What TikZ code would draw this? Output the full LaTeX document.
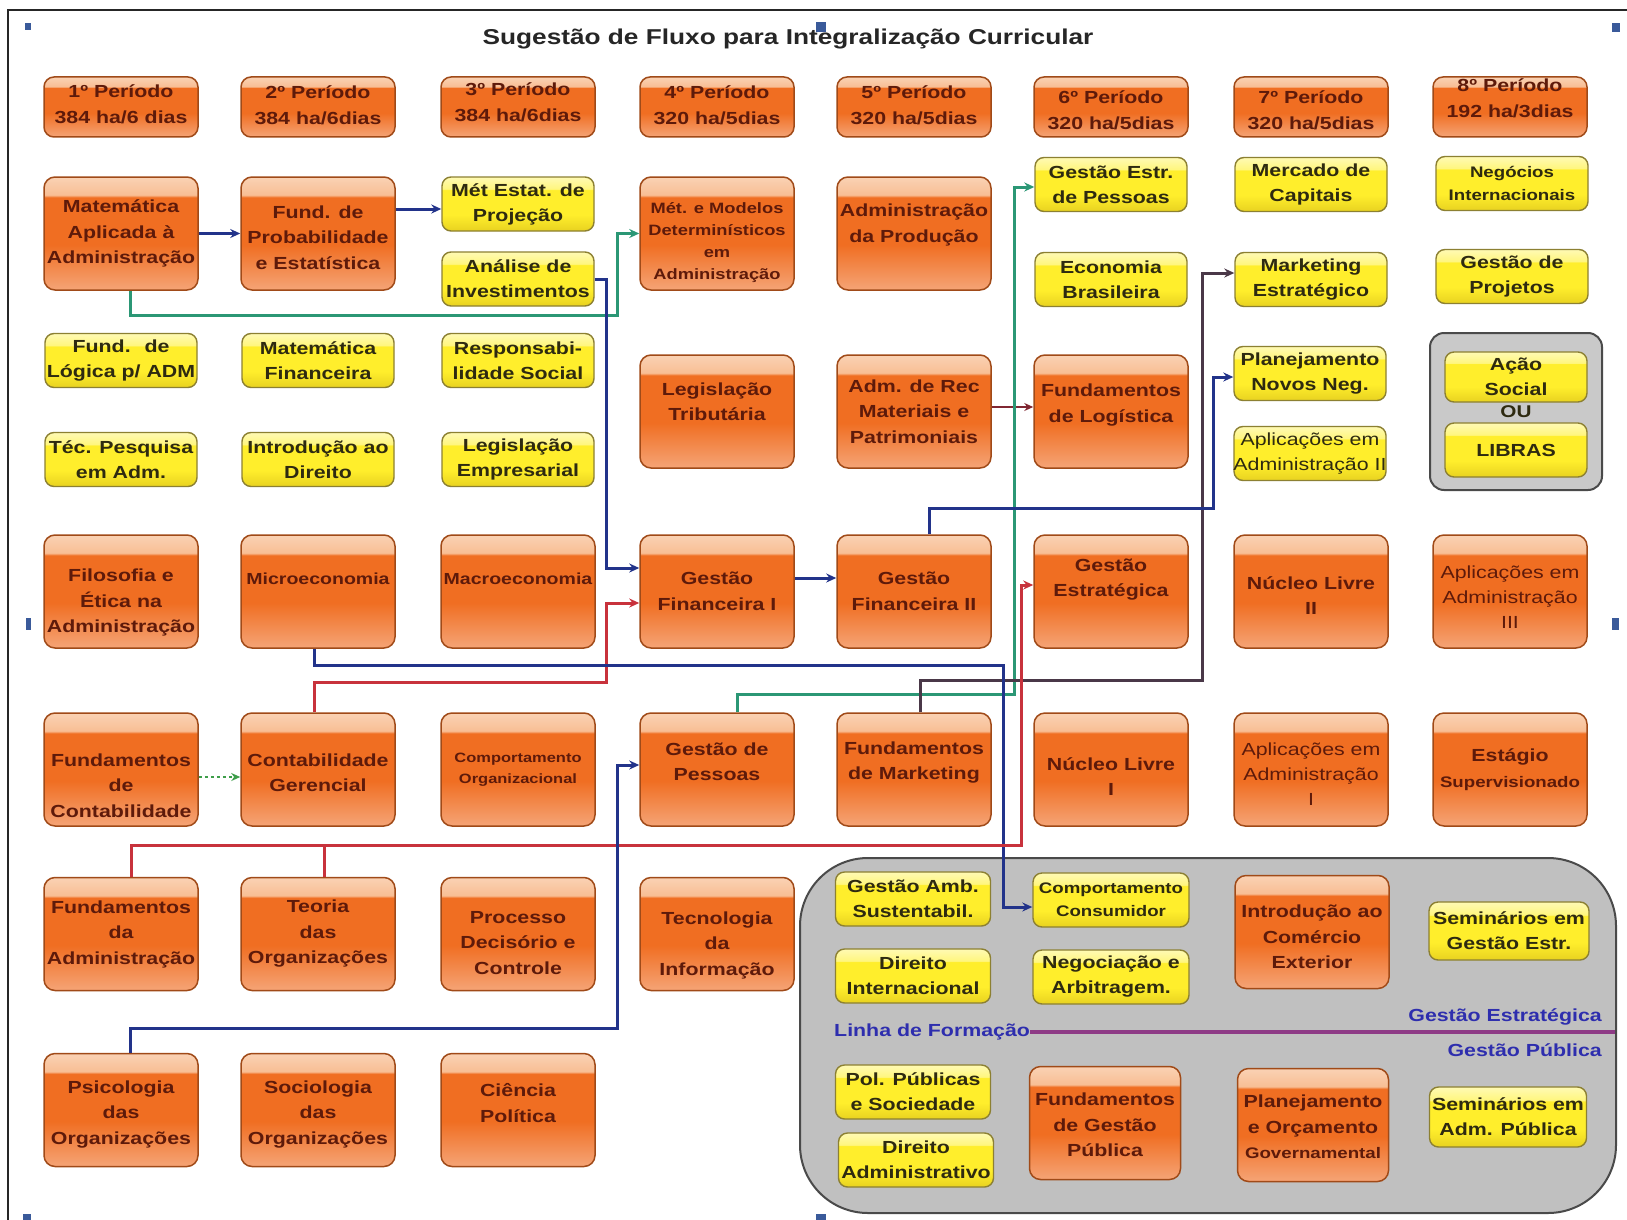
\documentclass[tikz,border=0pt]{standalone}
\usepackage{fontspec}
\newfontfamily\lsans{Liberation Sans}[FakeStretch=1.22]
\usetikzlibrary{arrows.meta}
\definecolor{ob}{HTML}{F5A476}
\definecolor{om}{HTML}{F06E22}
\definecolor{ot}{HTML}{F8BE94}
\definecolor{ot2}{HTML}{FAD2B4}
\definecolor{obord}{HTML}{A04A18}
\definecolor{otext}{HTML}{5E1A0A}
\definecolor{yb}{HTML}{E8D220}
\definecolor{ym}{HTML}{FFEE2C}
\definecolor{yt}{HTML}{FFF67E}
\definecolor{yt2}{HTML}{FFFAB4}
\definecolor{ybord}{HTML}{8C8032}
\definecolor{ytext}{HTML}{2E2A10}
\definecolor{navy}{HTML}{22338A}
\definecolor{teal}{HTML}{2B9775}
\definecolor{redln}{HTML}{C8323C}
\definecolor{darkln}{HTML}{4A3848}
\definecolor{dgreen}{HTML}{3E9E4A}
\definecolor{regfill}{HTML}{C0C0C0}
\definecolor{regdraw}{HTML}{4A4A4A}
\definecolor{handle}{HTML}{3A5A9A}
\definecolor{bluetxt}{HTML}{2E2EAE}
\definecolor{purp}{HTML}{8E3B86}
\pgfdeclareverticalshading{orgloss}{100bp}{color(0bp)=(ob); color(25bp)=(ob); color(45bp)=(om); color(66bp)=(om); color(67bp)=(ot); color(75bp)=(ot2); color(100bp)=(ot2)}
\pgfdeclareverticalshading{ygloss}{100bp}{color(0bp)=(yb); color(25bp)=(yb); color(40bp)=(ym); color(63bp)=(ym); color(64bp)=(yt); color(75bp)=(yt2); color(100bp)=(yt2)}
\newcommand{\mybox}[7]{\node[#1] (#2) at (#3,#4) {}; \node[#5] (#2t) at ([yshift=#6pt]#2.center) {#7};}
\begin{document}
\begin{tikzpicture}[x=1pt,y=-1pt,
  obox/.style={draw=obord, line width=1.5pt, rounded corners=11pt, shading=orgloss, minimum width=154pt, minimum height=113pt, inner sep=0pt},
  ohead/.style={obox, minimum height=60pt, rounded corners=10pt},
  ybox/.style={draw=ybord, line width=1.4pt, rounded corners=9pt, shading=ygloss, minimum width=152pt, minimum height=54pt, inner sep=0pt},
  tx/.style={inner sep=0pt, align=center},
  otx/.style={tx, text=otext, font={\lsans\bfseries\fontsize{17.5}{25.5}\selectfont}},
  otxs/.style={tx, text=otext, font={\lsans\bfseries\fontsize{15}{22}\selectfont}},
  otxm/.style={tx, text=otext, font={\lsans\bfseries\fontsize{16}{24}\selectfont}},
  otxxs/.style={tx, text=otext, font={\lsans\bfseries\fontsize{13.5}{21}\selectfont}},
  otxr/.style={tx, text=otext, font={\lsans\fontsize{17.5}{25}\selectfont}},
  ytx/.style={tx, text=ytext, font={\lsans\bfseries\fontsize{17.5}{25}\selectfont}},
  ytxs/.style={tx, text=ytext, font={\lsans\bfseries\fontsize{15.3}{23}\selectfont}},
  ytxr/.style={tx, text=ytext, font={\lsans\fontsize{17.5}{25}\selectfont}},
  conn/.style={line width=3pt, -{Stealth[length=10pt,width=9pt]}},
  lbl/.style={inner sep=0pt, text=bluetxt, font={\lsans\bfseries\fontsize{17.5}{22}\selectfont}}
]
\useasboundingbox (0,0) rectangle (1627,1220);
\fill[white] (0,0) rectangle (1627,1220);
\draw[line width=2pt, black!85] (8,1220) -- (8,10) -- (1627,10);
% selection handles
\fill[handle] (25,23) rectangle (31,30);
\fill[handle] (816,22) rectangle (826,32);
\fill[handle] (1612,23) rectangle (1620,32);
\fill[handle] (26,618) rectangle (31,630);
\fill[handle] (1612,618) rectangle (1619,630);
\fill[handle] (23,1214) rectangle (31,1220);
\fill[handle] (816,1214) rectangle (826,1220);

% title
\node[inner sep=0pt, text=black!85, font={\lsans\bfseries\fontsize{21.5}{25}\selectfont}] (title) at (788,39) {Sugestão de Fluxo para Integralização Curricular};

% grey region
\node[draw=regdraw, line width=2pt, fill=regfill, rounded corners=68pt, minimum width=816pt, minimum height=355pt, inner sep=0pt] (region) at (1208,1035.5) {};
% group box
\node[draw=regdraw, line width=2pt, fill=regfill!85!white, rounded corners=14pt, minimum width=172pt, minimum height=157pt, inner sep=0pt] (group) at (1516,411.5) {};

% headers
\mybox{ohead}{h1}{121}{107}{otx}{2.5}{1º Período\\384 ha/6 dias}
\mybox{ohead}{h2}{318}{107}{otx}{1.5}{2º Período\\384 ha/6dias}
\mybox{ohead}{h3}{518}{107}{otx}{4.5}{3º Período\\384 ha/6dias}
\mybox{ohead}{h4}{717}{107}{otx}{1.5}{4º Período\\320 ha/5dias}
\mybox{ohead}{h5}{914}{107}{otx}{1.5}{5º Período\\320 ha/5dias}
\mybox{ohead}{h6}{1111}{107}{otx}{-3.5}{6º Período\\320 ha/5dias}
\mybox{ohead}{h7}{1311}{107}{otx}{-3.5}{7º Período\\320 ha/5dias}
\mybox{ohead}{h8}{1510}{107}{otx}{8.5}{8º Período\\192 ha/3dias}

% row 1
\mybox{obox}{mat}{121}{233.5}{otx}{0}{Matemática\\Aplicada à\\Administração}
\mybox{obox}{prob}{318}{233.5}{otx}{-4}{Fund. de\\Probabilidade\\e Estatística}
\mybox{ybox}{metest}{518}{204}{ytx}{0}{Mét Estat. de\\Projeção}
\mybox{ybox}{analise}{518}{279}{ytx}{0}{Análise de\\Investimentos}
\mybox{obox}{modelos}{717}{233.5}{otxs}{-9}{Mét. e Modelos\\Determinísticos\\em\\Administração}
\mybox{obox}{admprod}{914}{233.5}{otx}{8.5}{Administração\\da Produção}
\mybox{ybox}{gep}{1111}{184.5}{ytx}{0}{Gestão Estr.\\de Pessoas}
\mybox{ybox}{mcap}{1311}{184.5}{ytx}{0}{Mercado de\\Capitais}
\mybox{ybox}{negint}{1512}{183.5}{ytxs}{0}{Negócios\\Internacionais}
\mybox{ybox}{econ}{1111}{279.5}{ytx}{0}{Economia\\Brasileira}
\mybox{ybox}{mktest}{1311}{279.5}{ytx}{0}{Marketing\\Estratégico}
\mybox{ybox}{gproj}{1512}{276.5}{ytx}{0}{Gestão de\\Projetos}

% row 2
\mybox{ybox}{flog}{121}{360.5}{ytx}{0}{Fund.~ de\\Lógica p/ ADM}
\mybox{ybox}{matfin}{318}{360.5}{ytx}{0}{Matemática\\Financeira}
\mybox{ybox}{resp}{518}{360.5}{ytx}{0}{Responsabi-\\lidade Social}
\mybox{ybox}{tecpesq}{121}{459.5}{ytx}{0}{Téc. Pesquisa\\em Adm.}
\mybox{ybox}{introdir}{318}{459.5}{ytx}{0}{Introdução ao\\Direito}
\mybox{ybox}{legemp}{518}{459.5}{ytx}{0}{Legislação\\Empresarial}
\mybox{obox}{legtrib}{717}{411.5}{otx}{10}{Legislação\\Tributária}
\mybox{obox}{admrec}{914}{411.5}{otx}{0}{Adm. de Rec\\Materiais e\\Patrimoniais}
\mybox{obox}{fundlog}{1111}{411.5}{otx}{6.5}{Fundamentos\\de Logística}
\mybox{ybox}{pnn}{1310}{373.5}{ytx}{0}{Planejamento\\Novos Neg.}
\mybox{ybox}{ap2}{1310}{453.5}{ytxr}{0}{Aplicações em\\Administração II}
\mybox{ybox,minimum width=142pt,minimum height=50pt}{acao}{1516}{377}{ytx}{0}{Ação\\Social}
\node[inner sep=0pt, text=ytext, font={\lsans\bfseries\fontsize{17}{20}\selectfont}] (ou) at (1516,412) {OU};
\mybox{ybox,minimum width=142pt,minimum height=54pt}{libras}{1516}{450}{ytx}{0}{LIBRAS}

% row 3
\mybox{obox}{filo}{121}{591.5}{otx}{-11}{Filosofia e\\Ética na\\Administração}
\mybox{obox}{micro}{318}{591.5}{otxm}{13}{Microeconomia}
\mybox{obox}{macro}{518}{591.5}{otxm}{13}{Macroeconomia}
\mybox{obox}{gf1}{717}{591.5}{otx}{0}{Gestão\\Financeira I}
\mybox{obox}{gf2}{914}{591.5}{otx}{0}{Gestão\\Financeira II}
\mybox{obox}{gestr}{1111}{591.5}{otx}{12}{Gestão\\Estratégica}
\mybox{obox}{nl2}{1311}{591.5}{otx}{-4}{Núcleo Livre\\II}
\mybox{obox}{ap3}{1510}{591.5}{otxr}{-6}{Aplicações em\\Administração\\III}

% row 4
\mybox{obox}{fcont}{121}{769.5}{otx}{-16}{Fundamentos\\de\\Contabilidade}
\mybox{obox}{contger}{318}{769.5}{otx}{-3}{Contabilidade\\Gerencial}
\mybox{obox}{comporg}{518}{769.5}{otxxs}{0}{Comportamento\\Organizacional}
\mybox{obox}{gpess}{717}{769.5}{otx}{8}{Gestão de\\Pessoas}
\mybox{obox}{fmkt}{914}{769.5}{otx}{7}{Fundamentos\\de Marketing}
\mybox{obox}{nl1}{1111}{769.5}{otx}{-7}{Núcleo Livre\\I}
\mybox{obox}{ap1}{1311}{769.5}{otxr}{-5}{Aplicações em\\Administração\\I}
\mybox{obox}{estagio}{1510}{769.5}{otx}{0}{Estágio\\{\fontsize{15.3}{22}\selectfont Supervisionado}}

% row 5
\mybox{obox}{fadm}{121}{934}{otx}{0}{Fundamentos\\da\\Administração}
\mybox{obox}{teoria}{318}{934}{otx}{0}{Teoria\\das\\Organizações}
\mybox{obox}{procdec}{518}{934}{otx}{-9}{Processo\\Decisório e\\Controle}
\mybox{obox}{tecinfo}{717}{934}{otx}{-11}{Tecnologia\\da\\Informação}

% row 6
\mybox{obox}{psico}{121}{1110}{otx}{-4}{Psicologia\\das\\Organizações}
\mybox{obox}{socio}{318}{1110}{otx}{-4}{Sociologia\\das\\Organizações}
\mybox{obox}{ciencia}{518}{1110}{otx}{7}{Ciência\\Política}

% inside grey region
\mybox{ybox,minimum width=155pt}{gamb}{913}{899}{ytx}{0}{Gestão Amb.\\Sustentabil.}
\mybox{ybox,minimum width=156pt}{compcons}{1111}{900}{ytxs}{0}{Comportamento\\Consumidor}
\mybox{obox}{comext}{1312}{932}{otx}{-5}{Introdução ao\\Comércio\\Exterior}
\mybox{ybox,minimum width=160pt,minimum height=58pt}{seminge}{1509}{931}{ytx}{0}{Seminários em\\Gestão Estr.}
\mybox{ybox,minimum width=155pt}{dirint}{913}{976}{ytx}{0}{Direito\\Internacional}
\mybox{ybox,minimum width=156pt}{negarb}{1111}{977}{ytx}{0}{Negociação e\\Arbitragem.}
\mybox{ybox,minimum width=155pt}{polpub}{913}{1092}{ytx}{0}{Pol. Públicas\\e Sociedade}
\mybox{ybox,minimum width=155pt}{diradm}{916}{1160}{ytx}{0}{Direito\\Administrativo}
\mybox{obox,minimum width=151pt}{fgp}{1105}{1123}{otx}{-2}{Fundamentos\\de Gestão\\Pública}
\mybox{obox,minimum width=151pt}{poe}{1313}{1125}{otx}{-2}{Planejamento\\e Orçamento\\{\fontsize{15.3}{22}\selectfont Governamental}}
\mybox{ybox,minimum width=157pt,minimum height=60pt}{semadm}{1508}{1117}{ytx}{0}{Seminários em\\Adm. Pública}

% linha de formacao
\node[lbl, anchor=west] (linha) at (834,1032) {Linha de Formação};
\coordinate (linhaend) at (1615,1032);
\draw[purp, line width=4.5pt] (linha.east) -- (linhaend);
\node[lbl, anchor=east] (gestlbl) at (1602,1017) {Gestão Estratégica};
\node[lbl, anchor=east] (publbl) at (1602,1050) {Gestão Pública};

% connectors
\draw[conn, navy] (mat) -- (prob);
\draw[conn, navy] (prob.east |- 0,209) -- (metest.west |- 0,209);
\draw[conn, teal] ([xshift=9pt]mat.south) |- (617,315) |- (modelos.west);
\draw[conn, navy] (analise.east) -| (606,568) -- (gf1.west |- 0,568);
\draw[conn, redln] ([xshift=-4pt]contger.north) |- (606,682) |- (gf1.west |- 0,603);
\draw[conn, navy] (gf1.east |- 0,578) -- (gf2.west |- 0,578);
\draw[line width=1.8pt, darkln!70!red, -{Stealth[length=9pt,width=8pt]}] (admrec.east |- 0,407) -- (fundlog.west |- 0,407);
\draw[conn, teal] ([xshift=20pt]gpess.north) |- (1014,694) |- (gep.west |- 0,187);
\draw[conn, darkln] ([xshift=6pt]fmkt.north) |- (1202,680) |- (mktest.west |- 0,273);
\draw[conn, navy] ([xshift=15pt]gf2.north) |- (1213,508) |- (pnn.west |- 0,377);
\draw[conn, navy] ([xshift=-4pt]micro.south) |- (1003,665) |- (compcons.west |- 0,907);
\draw[conn, redln] ([xshift=10pt]fadm.north) |- (1021,845) |- (gestr.west |- 0,585);
\draw[line width=3pt, redln] ([xshift=6pt]teoria.north) -- ([xshift=6pt]teoria.north |- 0,845);
\draw[conn, navy] ([xshift=9pt]psico.north) |- (617,1028) |- (gpess.west |- 0,765);
\draw[line width=2.6pt, dgreen, dashed, -{Stealth[length=9pt,width=8pt]}] (fcont.east |- 0,777) -- (contger.west |- 0,777);
\end{tikzpicture}
\end{document}
